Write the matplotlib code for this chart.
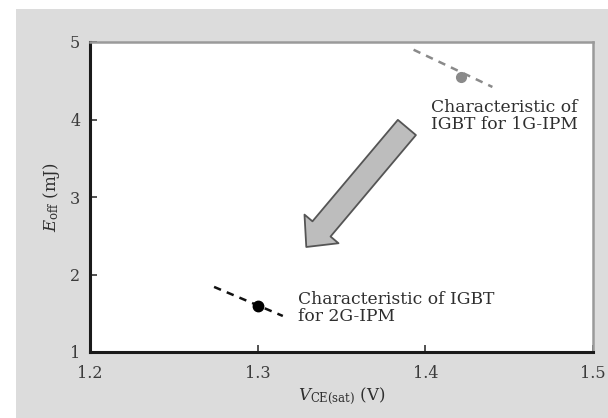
import matplotlib
matplotlib.use("Agg")
import matplotlib.pyplot as plt
from matplotlib.patches import Rectangle, FancyArrowPatch, ArrowStyle

plt.rcParams["font.family"] = ["DejaVu Serif"]
plt.rcParams["mathtext.fontset"] = "dejavuserif"

# Operating points and their trade-off curves (V_CE(sat) in V, E_off in mJ)
ipm1_point = (1.421, 4.55)
ipm1_curve_x = [1.393, 1.440]
ipm1_curve_y = [4.90, 4.42]

ipm2_point = (1.30, 1.60)
ipm2_curve_x = [1.274, 1.315]
ipm2_curve_y = [1.84, 1.465]

x_ticks = [1.2, 1.3, 1.4, 1.5]
y_ticks = [1, 2, 3, 4, 5]

W, H = 608, 418
fig = plt.figure(figsize=(W / 100, H / 100), dpi=100, facecolor="white")

# grey panel behind the plot
fig.patches.append(Rectangle((16 / W, 0), 1 - 16 / W, 1 - 9 / H,
                             transform=fig.transFigure, facecolor="#dcdcdc",
                             edgecolor="none", zorder=-10))

ax = fig.add_axes([90 / W, 1 - 352 / H, (593 - 90) / W, (352 - 42) / H])
ax.set_facecolor("white")
ax.set_xlim(1.2, 1.5)
ax.set_ylim(1, 5)
ax.set_xticks(x_ticks)
ax.set_yticks(y_ticks)
ax.set_xticklabels([f"{v:.1f}" for v in x_ticks])
ax.set_yticklabels([str(v) for v in y_ticks])
ax.tick_params(direction="in", length=5, width=1.2, color="#333333",
               labelsize=11.5, labelcolor="#3c3c3c")
ax.tick_params(axis="x", pad=9)
ax.tick_params(axis="y", pad=7)

for side in ("left", "bottom"):
    ax.spines[side].set_color("#1a1a1a")
    ax.spines[side].set_linewidth(2.2)
for side in ("top", "right"):
    ax.spines[side].set_color("#9a9a9a")
    ax.spines[side].set_linewidth(1.8)

# 1G-IPM
ax.plot(ipm1_curve_x, ipm1_curve_y, linestyle=(0, (3, 2.5)), color="#8a8a8a", lw=1.8)
ax.plot(*ipm1_point, "o", color="#8a8a8a", ms=7)
ax.text(1.4036, 4.26, "Characteristic of\nIGBT for 1G-IPM", fontsize=12.3,
        color="#2e2e2e", va="top", ha="left", linespacing=1.0)

# 2G-IPM
ax.plot(ipm2_curve_x, ipm2_curve_y, linestyle=(0, (3, 2.5)), color="#111111", lw=1.8)
ax.plot(*ipm2_point, "o", color="#000000", ms=7.5)
ax.text(1.324, 1.79, "Characteristic of IGBT\nfor 2G-IPM", fontsize=12.3,
        color="#2e2e2e", va="top", ha="left", linespacing=1.0)

# improvement arrow
arrow = FancyArrowPatch((1.389, 3.897), (1.329, 2.355),
                        arrowstyle=ArrowStyle.Simple(head_length=17, head_width=32,
                                                     tail_width=17),
                        mutation_scale=1, shrinkA=0, shrinkB=0,
                        facecolor="#bdbdbd", edgecolor="#555555", lw=1.3, zorder=3)
ax.add_patch(arrow)

ax.set_xlabel(r"$V_{\mathrm{CE(sat)}}$ (V)", fontsize=12, color="#2e2e2e", labelpad=3)
ax.set_ylabel(r"$E_{\mathrm{off}}$ (mJ)", fontsize=12, color="#2e2e2e", labelpad=6)

fig.savefig("out.png", dpi=100, facecolor=fig.get_facecolor())
